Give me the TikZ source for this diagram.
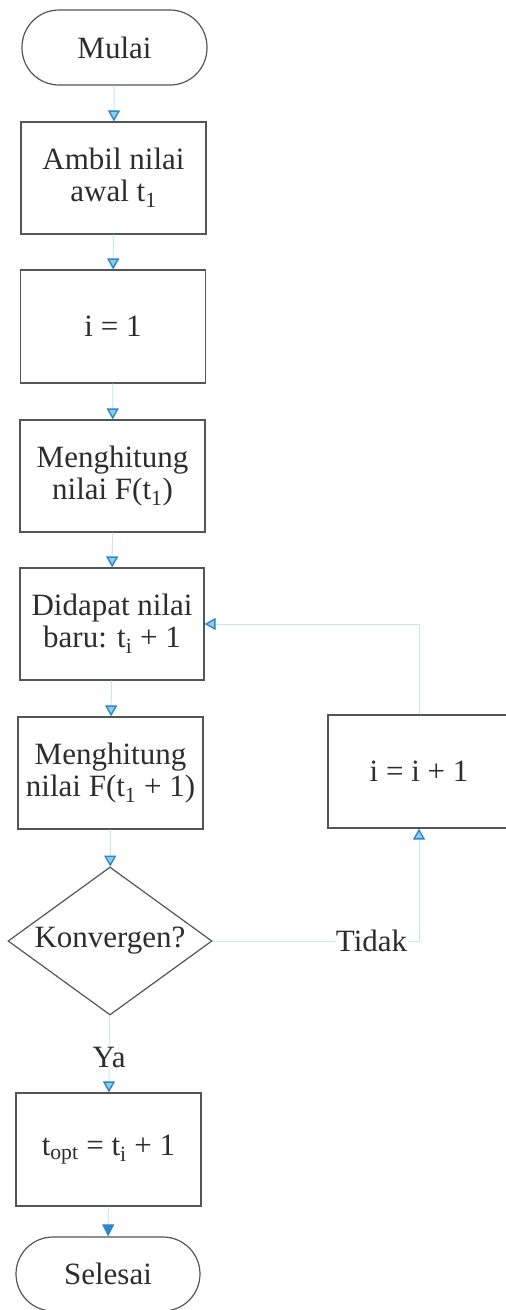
\documentclass[tikz,border=0pt]{standalone}
\usepackage{fontspec}
\setmainfont{Liberation Serif}
\usetikzlibrary{arrows.meta,shapes.geometric}
\definecolor{linec}{RGB}{200,232,238}
\definecolor{boxc}{RGB}{85,85,85}
\definecolor{txtc}{RGB}{45,45,45}
\definecolor{tipdraw}{RGB}{45,135,200}
\definecolor{tipfill}{RGB}{140,205,232}
\tikzset{
  base/.style={draw=boxc, line width=1.2pt, text=txtc, align=center, inner sep=0pt,
    font=\fontsize{31}{32}\selectfont},
  procbox/.style={base, rectangle, minimum width=185pt, minimum height=112pt},
  termbox/.style={base, rectangle, rounded corners=37pt, minimum width=185pt, minimum height=75pt},
  decbox/.style={base, diamond, aspect=1.38, minimum width=204pt, minimum height=148pt},
  lbl/.style={fill=white, text=txtc, inner sep=1pt, font=\fontsize{31}{32}\selectfont},
  arr/.style={draw=linec, line width=1pt,
    -{Triangle[width=12pt,length=11pt,line width=1.4pt,color=tipdraw,fill=tipfill]}},
  arrsolid/.style={draw=linec, line width=1pt,
    -{Triangle[width=12pt,length=12pt,color=tipdraw,fill=tipdraw]}},
}
\begin{document}
\begin{tikzpicture}[x=1pt,y=-1pt]
\useasboundingbox (0,0) rectangle (506,1310);
\clip (0,0) rectangle (506,1310);
\node[termbox] (mulai) at (114.5,47.5) {Mulai};
\node[procbox] (ambil) at (113.5,178) {Ambil nilai\\awal t\textsubscript{1}};
\node[procbox, minimum height=113pt] (ione) at (113,326.5) {i = 1};
\node[procbox] (hit1) at (112.5,476) {Menghitung\\nilai F(t\textsubscript{1})};
\node[procbox, minimum width=184pt] (didapat) at (112,624) {Didapat nilai\\baru: t\textsubscript{i} + 1};
\node[procbox] (hit2) at (110.5,773) {Menghitung\\nilai F(t\textsubscript{1} + 1)};
\node[decbox] (konv) at (110,941) {Konvergen?};
\node[procbox, minimum height=113pt] (topt) at (108.5,1149.5) {t\textsubscript{opt} = t\textsubscript{i} + 1};
\node[termbox, minimum width=184pt, minimum height=74pt] (selesai) at (108,1274) {Selesai};
\node[procbox, minimum width=182pt, minimum height=113pt] (inc) at (419,771.5) {i = i + 1};
\coordinate (corner) at (inc.south |- konv.east);

\draw[arr] (mulai) -- (ambil);
\draw[arr] (ambil) -- (ione);
\draw[arr] (ione) -- (hit1);
\draw[arr] (hit1) -- (didapat);
\draw[arr] (didapat) -- (hit2);
\draw[arr] (hit2) -- (konv);
\draw[arr] (konv) -- node[lbl, pos=0.55] (ya) {Ya} (topt);
\draw[arrsolid] (topt) -- (selesai);
\draw[arr] (konv.east) -- node[lbl, pos=0.77] (tidak) {Tidak} (corner) -- (inc.south);
\draw[arr] (inc.north) |- (didapat.east);
\end{tikzpicture}
\end{document}
